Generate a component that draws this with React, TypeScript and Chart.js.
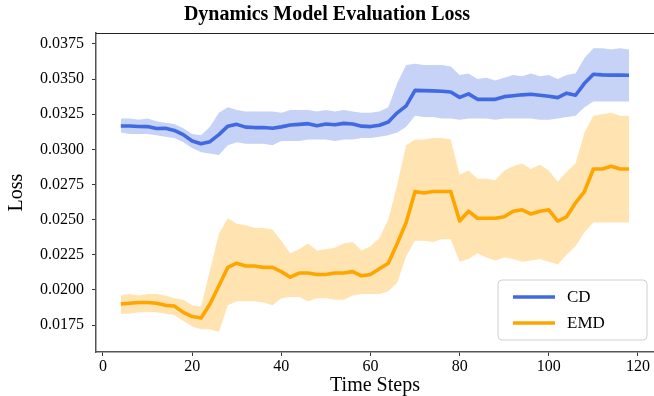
import React, { useEffect, useRef } from "react";
import { Chart, registerables } from "chart.js";

Chart.register(...registerables);

const timeSteps = [
  4, 6, 8, 10, 12, 14, 16, 18, 20, 22,
  24, 26, 28, 30, 32, 34, 36, 38, 40, 42,
  44, 46, 48, 50, 52, 54, 56, 58, 60, 62,
  64, 66, 68, 70, 72, 74, 76, 78, 80, 82,
  84, 86, 88, 90, 92, 94, 96, 98, 100, 102,
  104, 106, 108, 110, 112, 114, 116, 118,
];

const cdMean = [
  0.03166, 0.03166, 0.03163, 0.03162, 0.03148, 0.0315, 0.03135, 0.03105, 0.0306, 0.0304,
  0.03055, 0.03105, 0.03165, 0.03178, 0.03158, 0.03155, 0.03155, 0.0315, 0.0316, 0.03173,
  0.03178, 0.03183, 0.03168, 0.0318, 0.03175, 0.03185, 0.0318, 0.03165, 0.03162, 0.03172,
  0.03195, 0.0326, 0.0331, 0.0342, 0.03418, 0.03416, 0.03413, 0.03408, 0.0337, 0.03395,
  0.03356, 0.03356, 0.03356, 0.03375, 0.03382, 0.03388, 0.03392, 0.03385, 0.03378, 0.03368,
  0.034, 0.03385, 0.0347, 0.03534, 0.0353, 0.03528, 0.03528, 0.03527,
];
const cdUpper = [
  0.0322, 0.0322, 0.0321, 0.0322, 0.032, 0.0319, 0.0318, 0.0315, 0.0311, 0.031,
  0.0316, 0.0326, 0.033, 0.0328, 0.0327, 0.0327, 0.0327, 0.0327, 0.0326, 0.0328,
  0.0328, 0.0328, 0.0327, 0.0328, 0.0327, 0.0328, 0.0327, 0.0326, 0.0326, 0.0327,
  0.033, 0.0347, 0.036, 0.0361, 0.036, 0.036, 0.036, 0.0359, 0.0353, 0.0354,
  0.035, 0.0351, 0.0349, 0.0351, 0.0353, 0.0352, 0.0354, 0.0352, 0.0353, 0.035,
  0.0353, 0.0354, 0.0365, 0.0372, 0.0372, 0.0371, 0.0372, 0.0371,
];
const cdLower = [
  0.0312, 0.0311, 0.0311, 0.0311, 0.031, 0.0309, 0.0308, 0.0305, 0.0301, 0.0298,
  0.0297, 0.0296, 0.0303, 0.0305, 0.0304, 0.0304, 0.0304, 0.0303, 0.0306, 0.0306,
  0.0306, 0.0307, 0.0307, 0.0307, 0.0306, 0.0307, 0.0307, 0.0308, 0.0308, 0.0309,
  0.031, 0.0312, 0.0316, 0.0324, 0.0323, 0.0323, 0.0322, 0.0322, 0.0321, 0.0322,
  0.0322, 0.0322, 0.0321, 0.0322, 0.0322, 0.0322, 0.0322, 0.0321, 0.0321, 0.0322,
  0.0323, 0.0324, 0.033, 0.0334, 0.0334, 0.0334, 0.0334, 0.0334,
];

const emdMean = [
  0.019, 0.01905, 0.0191, 0.0191, 0.01905, 0.0189, 0.01885, 0.0184, 0.0181, 0.018,
  0.019, 0.0203, 0.0216, 0.0219, 0.0217, 0.0217, 0.0216, 0.0216, 0.0213, 0.0209,
  0.0212, 0.0212, 0.0211, 0.0211, 0.0212, 0.0212, 0.0213, 0.021, 0.0211, 0.0215,
  0.0219, 0.0233, 0.0248, 0.027, 0.0269, 0.027, 0.027, 0.027, 0.0249, 0.0256,
  0.0251, 0.0251, 0.0251, 0.0252, 0.0256, 0.0257, 0.0254, 0.0256, 0.0257, 0.0249,
  0.0252, 0.0262, 0.027, 0.0286, 0.0286, 0.0288, 0.0286, 0.0286,
];
const emdUpper = [
  0.0196, 0.0197, 0.0196, 0.0197, 0.0197, 0.0196, 0.0194, 0.0193, 0.0189, 0.0188,
  0.0214, 0.024, 0.0251, 0.0247, 0.0246, 0.0244, 0.0244, 0.0243, 0.0235, 0.0226,
  0.0229, 0.0233, 0.0228, 0.0229, 0.023, 0.0233, 0.0234, 0.0228, 0.0231, 0.0237,
  0.025, 0.0275, 0.0303, 0.0307, 0.0307, 0.0308, 0.0308, 0.0307, 0.0282, 0.0285,
  0.0279, 0.0279, 0.0278, 0.0285, 0.0288, 0.029, 0.0286, 0.0289, 0.0285, 0.0277,
  0.0284, 0.029, 0.0312, 0.0324, 0.0325, 0.0326, 0.0324, 0.0324,
];
const emdLower = [
  0.0183, 0.0183, 0.0184, 0.0184, 0.0184, 0.0183, 0.0182, 0.0178, 0.0174, 0.0172,
  0.0172, 0.017, 0.0189, 0.0192, 0.0192, 0.0192, 0.0191, 0.0189, 0.0194, 0.0195,
  0.0195, 0.0192, 0.0194, 0.0194, 0.0193, 0.0193, 0.0196, 0.0197, 0.0197, 0.0197,
  0.0199, 0.0205, 0.0224, 0.0235, 0.0235, 0.0234, 0.0236, 0.0236, 0.022, 0.0222,
  0.0226, 0.0223, 0.0221, 0.0223, 0.0222, 0.022, 0.0221, 0.0222, 0.022, 0.0218,
  0.0225, 0.0231, 0.0241, 0.0248, 0.0248, 0.0248, 0.0248, 0.0248,
];

const xTicks = [0, 20, 40, 60, 80, 100, 120];
const yTicks = [0.0175, 0.02, 0.0225, 0.025, 0.0275, 0.03, 0.0325, 0.035, 0.0375];
const seriesLabels = ["CD", "EMD"];

const CD_COLOR = "#4169E1";
const EMD_COLOR = "#FFA500";
const CD_BAND = "rgba(65,105,225,0.3)";
const EMD_BAND = "rgba(255,165,0,0.3)";
const FONT = "'Liberation Serif', 'Times New Roman', serif";

const pts = (ys: number[]) => timeSteps.map((x, i) => ({ x, y: ys[i] }));

const frameAndLegend = {
  id: "frameAndLegend",
  afterDraw(chart: any) {
    const { ctx, chartArea } = chart;
    ctx.save();
    // top spine
    ctx.strokeStyle = "#222";
    ctx.lineWidth = 1.2;
    ctx.beginPath();
    ctx.moveTo(chartArea.left, chartArea.top + 0.5);
    ctx.lineTo(chartArea.right, chartArea.top + 0.5);
    ctx.stroke();

    // legend
    const lx = 498, ly = 280, lw = 149, lh = 60, r = 4;
    ctx.beginPath();
    ctx.moveTo(lx + r, ly);
    ctx.lineTo(lx + lw - r, ly);
    ctx.quadraticCurveTo(lx + lw, ly, lx + lw, ly + r);
    ctx.lineTo(lx + lw, ly + lh - r);
    ctx.quadraticCurveTo(lx + lw, ly + lh, lx + lw - r, ly + lh);
    ctx.lineTo(lx + r, ly + lh);
    ctx.quadraticCurveTo(lx, ly + lh, lx, ly + lh - r);
    ctx.lineTo(lx, ly + r);
    ctx.quadraticCurveTo(lx, ly, lx + r, ly);
    ctx.closePath();
    ctx.fillStyle = "rgba(255,255,255,0.8)";
    ctx.fill();
    ctx.strokeStyle = "#d0d0d0";
    ctx.lineWidth = 1;
    ctx.stroke();

    const rows = [
      { label: seriesLabels[0], color: CD_COLOR, y: 297 },
      { label: seriesLabels[1], color: EMD_COLOR, y: 323 },
    ];
    ctx.font = `17px ${FONT}`;
    ctx.textBaseline = "middle";
    ctx.textAlign = "left";
    rows.forEach((row) => {
      ctx.strokeStyle = row.color;
      ctx.lineWidth = 3.6;
      ctx.beginPath();
      ctx.moveTo(513, row.y);
      ctx.lineTo(555, row.y);
      ctx.stroke();
      ctx.fillStyle = "#000";
      ctx.fillText(row.label, 567, row.y + 1);
    });
    ctx.restore();
  },
};

export default function App() {
  const canvasRef = useRef<HTMLCanvasElement | null>(null);

  useEffect(() => {
    document.body.style.margin = "0";
    const canvas = canvasRef.current;
    if (!canvas) return;
    const chart = new Chart(canvas, {
      type: "line",
      data: {
        datasets: [
          {
            label: "CD band upper",
            data: pts(cdUpper),
            borderWidth: 0,
            pointRadius: 0,
            backgroundColor: CD_BAND,
            fill: "+1",
            order: 3,
          },
          {
            label: "CD band lower",
            data: pts(cdLower),
            borderWidth: 0,
            pointRadius: 0,
            fill: false,
            order: 3,
          },
          {
            label: "EMD band upper",
            data: pts(emdUpper),
            borderWidth: 0,
            pointRadius: 0,
            backgroundColor: EMD_BAND,
            fill: "+1",
            order: 3,
          },
          {
            label: "EMD band lower",
            data: pts(emdLower),
            borderWidth: 0,
            pointRadius: 0,
            fill: false,
            order: 3,
          },
          {
            label: seriesLabels[0],
            data: pts(cdMean),
            borderColor: CD_COLOR,
            borderWidth: 3.6,
            pointRadius: 0,
            fill: false,
            tension: 0,
            borderJoinStyle: "round",
            borderCapStyle: "butt",
            order: 1,
          },
          {
            label: seriesLabels[1],
            data: pts(emdMean),
            borderColor: EMD_COLOR,
            borderWidth: 3.6,
            pointRadius: 0,
            fill: false,
            tension: 0,
            borderJoinStyle: "round",
            borderCapStyle: "butt",
            order: 0,
          },
        ],
      },
      options: {
        responsive: false,
        animation: false,
        layout: { padding: { left: 0, right: 0, top: 0, bottom: 0 } },
        plugins: {
          legend: { display: false },
          tooltip: { enabled: false },
          filler: { drawTime: "beforeDatasetsDraw" },
          title: {
            display: true,
            text: "Dynamics Model Evaluation Loss",
            color: "#000",
            font: { family: FONT, size: 20, weight: "bold", lineHeight: 1.2 },
            padding: { top: 3, bottom: 6 },
          },
        },
        scales: {
          x: {
            type: "linear",
            min: -1.57,
            max: 123.6,
            afterBuildTicks: (scale: any) => {
              scale.ticks = xTicks.map((v) => ({ value: v }));
            },
            afterFit: (scale: any) => {
              scale.height = 44;
            },
            ticks: {
              color: "#000",
              font: { family: FONT, size: 16 },
              padding: 1,
              maxRotation: 0,
              autoSkip: false,
            },
            grid: {
              display: true,
              drawOnChartArea: false,
              drawTicks: true,
              tickLength: 4,
              tickColor: "#333",
            },
            border: { display: true, color: "#555", width: 1.5 },
            title: {
              display: true,
              text: "Time Steps",
              color: "#000",
              font: { family: FONT, size: 20, lineHeight: 1.2 },
              padding: { top: 0, bottom: -2 },
            },
          },
          y: {
            type: "linear",
            min: 0.01558,
            max: 0.03828,
            afterBuildTicks: (scale: any) => {
              scale.ticks = yTicks.map((v) => ({ value: v }));
            },
            afterFit: (scale: any) => {
              scale.width = 96;
            },
            ticks: {
              color: "#000",
              font: { family: FONT, size: 16 },
              padding: 8,
              autoSkip: false,
              callback: (v: any) => Number(v).toFixed(4),
            },
            grid: {
              display: true,
              drawOnChartArea: false,
              drawTicks: true,
              tickLength: 4,
              tickColor: "#333",
            },
            border: { display: true, color: "#555", width: 1.5 },
            title: {
              display: true,
              text: "Loss",
              color: "#000",
              font: { family: FONT, size: 20, lineHeight: 1.2 },
              padding: { top: 5, bottom: 0 },
            },
          },
        },
      },
      plugins: [frameAndLegend],
    });
    return () => chart.destroy();
  }, []);

  return (
    <div style={{ width: 654, height: 396 }}>
      <canvas ref={canvasRef} width={654} height={396} style={{ display: "block" }} />
    </div>
  );
}
